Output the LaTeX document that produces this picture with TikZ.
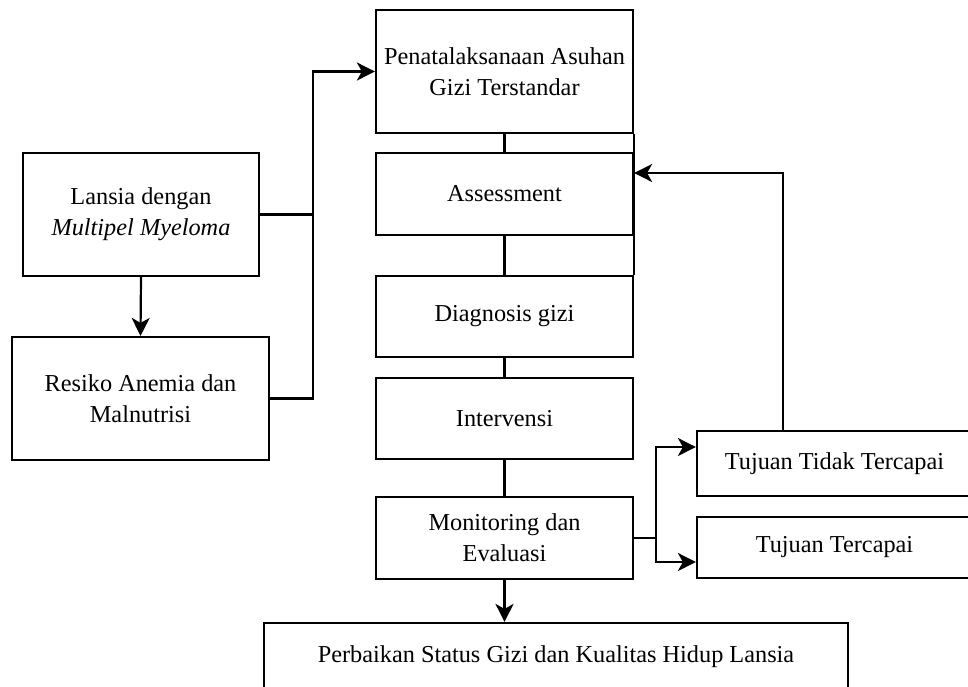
\documentclass[tikz,border=0pt]{standalone}
\usepackage{fontspec}
\setmainfont{Liberation Serif}
\usetikzlibrary{arrows.meta}
\begin{document}
\begin{tikzpicture}[x=1pt,y=-1pt,line width=2.2pt,
  kotak/.style={draw,align=center,inner sep=0pt,font=\fontsize{24.3}{31}\selectfont},
  >={Stealth[length=18pt,width=18pt,inset=5pt]}]
\clip (0,0) rectangle (968,686);%batas gambar
% kolom tengah
\node[kotak,minimum width=257pt,minimum height=123pt](pen)at(504.5,71.5){Penatalaksanaan Asuhan\\Gizi Terstandar};
\node[kotak,minimum width=257pt,minimum height=82pt](assess)at(504.5,194){Assessment};
\node[kotak,minimum width=257pt,minimum height=81pt](diag)at(504.5,316.5){Diagnosis gizi};
\node[kotak,minimum width=257pt,minimum height=81pt](interv)at(504.5,418.5){Intervensi};
\node[kotak,minimum width=257pt,minimum height=82pt](monev)at(504.5,538){Monitoring dan\\Evaluasi};
% kolom kiri
\node[kotak,minimum width=236pt,minimum height=123pt](lansia)at(141,214.5){Lansia dengan\\\textit{Multipel Myeloma}};
\node[kotak,minimum width=257pt,minimum height=123pt](resiko)at(140.5,398.5){Resiko Anemia dan\\Malnutrisi};
% kolom kanan
\node[kotak,minimum width=275pt,minimum height=65pt](tidak)at(834.5,463.5){Tujuan Tidak Tercapai};
\node[kotak,minimum width=275pt,minimum height=61pt](capai)at(834.5,547.5){Tujuan Tercapai};
\node[kotak,minimum width=584pt,minimum height=68pt](baik)at(556,657){Perbaikan Status Gizi dan Kualitas Hidup Lansia};
% penghubung
\draw[->](lansia.south)--(resiko.north);
\draw[->](lansia.east)--++(53,0)|-(pen.west);
\draw(resiko.east)-|([xshift=53pt]lansia.east);
\draw(pen.south)--(assess.north);
\draw(assess.south)--(diag.north);
\draw(diag.south)--(interv.north);
\draw(interv.south)--(monev.north);
\draw(pen.south east)--(diag.north east);%garis kanan
\draw[->](monev.east)--++(22,0)|-([yshift=16.5pt]tidak.west);
\draw[->](monev.east)--++(22,0)|-([yshift=-14.5pt]capai.west);
\draw[->]([xshift=-51.5pt]tidak.north)|-([yshift=21pt]assess.east);
\draw[->](monev.south)--(monev.south|-baik.north);
\end{tikzpicture}
\end{document}
